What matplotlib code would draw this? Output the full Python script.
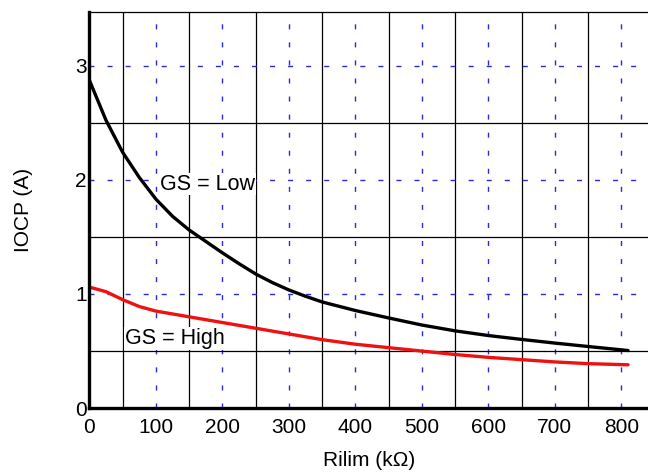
import matplotlib
matplotlib.use("Agg")
import matplotlib.pyplot as plt
from matplotlib.ticker import FixedLocator, NullFormatter

plt.rcParams['font.family'] = ['Liberation Sans', 'DejaVu Sans']

# Rilim (kOhm) and IOCP (A)
r_low = [0, 25, 50, 75, 100, 125, 150, 175, 200, 225, 250, 275, 300, 325, 350,
         400, 450, 500, 550, 600, 650, 700, 750, 810]
i_low = [2.87, 2.52, 2.24, 2.02, 1.83, 1.68, 1.56, 1.46, 1.36, 1.265, 1.175, 1.10,
         1.035, 0.98, 0.93, 0.855, 0.79, 0.728, 0.677, 0.636, 0.602, 0.57, 0.54, 0.505]

r_high = [0, 25, 50, 75, 100, 150, 200, 250, 300, 350, 400, 450, 500, 550, 600,
          650, 700, 750, 810]
i_high = [1.06, 1.02, 0.95, 0.89, 0.85, 0.80, 0.75, 0.70, 0.65, 0.60, 0.56, 0.53,
          0.50, 0.47, 0.445, 0.425, 0.405, 0.39, 0.38]

x_major = [0, 100, 200, 300, 400, 500, 600, 700, 800]
x_minor = [50, 150, 250, 350, 450, 550, 650, 750]
y_major = [0, 1, 2, 3]
y_minor = [0.5, 1.5, 2.5, 3.5]

fig = plt.figure(figsize=(6.48, 4.73), dpi=100)
ax = fig.add_axes([0.138, 0.137, 0.862, 0.838])

ax.set_xlim(0, 840)
ax.set_ylim(0, 3.47)

ax.xaxis.set_major_locator(FixedLocator(x_major))
ax.xaxis.set_minor_locator(FixedLocator(x_minor))
ax.yaxis.set_major_locator(FixedLocator(y_major))
ax.yaxis.set_minor_locator(FixedLocator(y_minor))
ax.xaxis.set_minor_formatter(NullFormatter())
ax.yaxis.set_minor_formatter(NullFormatter())

ax.grid(which='minor', color='black', linestyle='-', linewidth=0.9)
ax.grid(which='major', color='#2a2ad0', linestyle=(0, (3.6, 9.4)), linewidth=1.0)
ax.set_axisbelow(True)

ax.tick_params(which='both', length=0, labelsize=15)
ax.tick_params(axis='x', pad=7)
ax.tick_params(axis='y', pad=2)

ax.spines['right'].set_visible(False)
ax.spines['top'].set_linewidth(0.9)
ax.spines['left'].set_linewidth(2.4)
ax.spines['bottom'].set_linewidth(2.4)

ax.plot(r_low, i_low, color='black', linewidth=2.4, solid_capstyle='round',
        solid_joinstyle='round')
ax.plot(r_high, i_high, color='#ee1111', linewidth=2.4, solid_capstyle='round',
        solid_joinstyle='round')

ax.text(106, 1.96, 'GS = Low', fontsize=15.5, va='center', ha='left',
        bbox=dict(facecolor='white', edgecolor='none', pad=0.5))
ax.text(53, 0.61, 'GS = High', fontsize=15.5, va='center', ha='left',
        bbox=dict(facecolor='white', edgecolor='none', pad=0.5))

ax.set_xlabel('Rilim (k\u03a9)', fontsize=15, labelpad=10)
ax.set_ylabel('IOCP (A)', fontsize=15, labelpad=30)

fig.savefig('out.png', dpi=100)
